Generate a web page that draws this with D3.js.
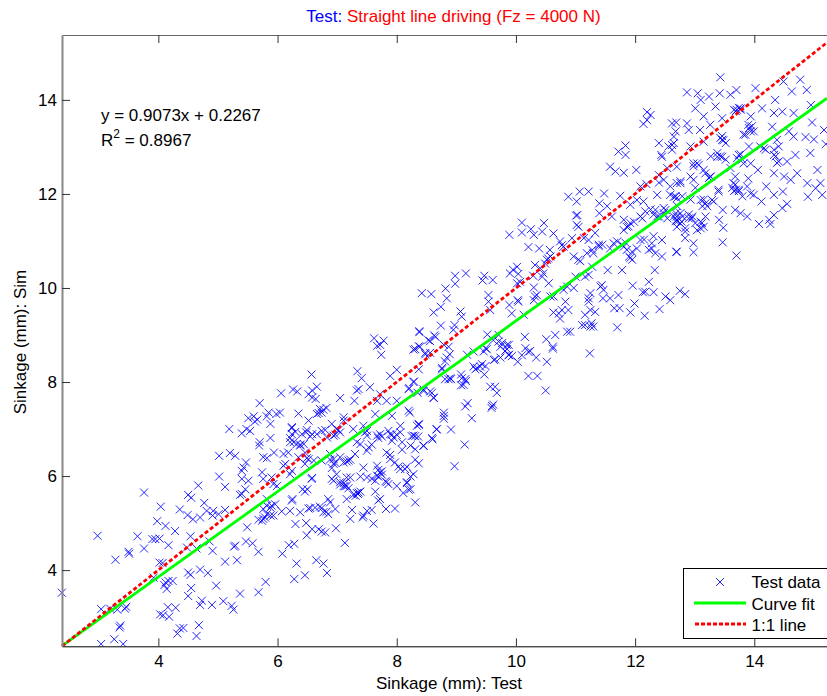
<!DOCTYPE html>
<html><head><meta charset="utf-8">
<script src="https://cdn.jsdelivr.net/npm/d3@7/dist/d3.min.js"></script>
<style>
html,body{margin:0;padding:0;background:#fff;overflow:hidden}
text{font-family:"Liberation Sans",Arial,sans-serif;font-size:17px;fill:#000}
</style></head><body><div id="c"></div>
<script>
const xTicks=[4,6,8,10,12,14];
const yTicks=[4,6,8,10,12,14];
const xDomain=[2.383,15.22];
const yDomain=[2.38,15.38];
const fitSlope=0.9073, fitIntercept=0.2267;
const titleBlue="Test: ", titleRed="Straight line driving (Fz = 4000 N)";
const legendLabels=["Test data","Curve fit","1:1 line"];

const pointsLow=[[2.38,3.52],[2.98,4.73],[3.28,4.22],[3.65,4.72],[3.76,5.65],[3.5,4.39],[3.51,4.35],[3.76,4.46],[3.9,4.66],[3.95,4.66],[4.02,4.67],[3.98,5.04],[4.04,5.35],[4.12,4.94],[4.28,4.83],[4.17,4.53],[4.02,4.16],[4.07,4.15],[4.36,5.29],[4.5,5.6],[4.55,5.54],[4.67,5.8],[4.49,5.17],[4.58,5.08],[4.7,5.12],[4.77,5.43],[4.81,5.26],[4.92,5.26],[4.91,5.16],[5.01,5.19],[5.12,5.28],[5.02,5.99],[5.12,5.77],[5.02,6.43],[5.2,6.49],[5.29,6.43],[5.19,7.0],[4.54,4.72],[4.48,4.48],[4.64,4.46],[4.86,4.61],[4.91,4.41],[5.49,4.91],[5.47,4.61],[5.58,4.57],[5.27,4.5],[5.29,4.52],[5.12,4.18],[5.32,4.21],[5.68,4.39],[4.7,4.01],[4.83,3.94],[4.5,3.95],[4.54,3.9],[4.97,3.67],[4.55,3.62],[4.5,3.45],[4.12,3.74],[4.17,3.77],[4.24,3.77],[4.1,3.68],[4.14,3.6],[3.92,3.84],[5.37,3.5],[5.68,3.53],[5.8,3.75],[4.73,3.35],[4.7,3.26],[4.9,3.26],[5.09,3.34],[5.23,3.24],[5.26,3.16],[4.16,3.21],[4.29,3.2],[4.03,3.06],[4.08,3.04],[4.18,3.01],[4.68,2.83],[4.64,2.6],[4.36,2.76],[4.42,2.77],[4.32,2.65],[3.04,3.17],[3.19,3.18],[3.31,3.16],[3.46,3.22],[3.44,3.18],[3.36,2.82],[3.35,2.78],[3.26,2.53],[3.04,2.43],[3.41,2.43]];

const pointsMid=[[6.08,4.35],[6.19,4.53],[6.28,4.56],[6.32,4.14],[6.28,3.81],[6.46,3.89],[6.65,4.21],[6.77,4.14],[6.83,3.94],[7.13,4.58],[6.98,4.89],[6.49,4.74],[6.58,4.87],[6.69,4.87],[6.74,4.82],[6.8,4.8],[6.3,4.98],[6.48,5.0],[7.22,5.09],[7.43,5.12],[7.44,5.16],[7.61,4.99],[7.5,5.26],[7.58,5.28],[7.25,5.28],[6.97,5.3],[6.85,5.19],[6.77,5.23],[6.55,5.32],[6.63,5.33],[6.71,5.35],[6.74,5.32],[6.82,5.24],[6.52,5.31],[6.38,5.23],[6.21,5.26],[6.07,5.25],[7.72,5.51],[7.69,5.48],[7.82,5.3],[7.97,5.31],[7.35,5.62],[7.31,5.58],[7.16,5.51],[6.85,5.51],[6.88,5.44],[6.25,5.51],[6.24,5.48],[6.42,5.72],[6.46,5.67],[6.5,5.72],[6.57,5.94],[5.82,5.19],[5.76,5.09],[5.88,5.16],[5.93,5.16],[5.68,5.07],[5.74,5.05],[5.79,5.12],[5.9,5.37],[5.88,5.33],[5.96,5.4],[5.82,5.51],[5.76,5.3],[5.82,5.37],[5.4,5.62],[5.37,5.6],[5.46,5.72],[5.4,5.94],[5.51,5.9],[5.4,6.11],[5.47,6.29],[5.43,6.18],[5.74,6.08],[5.76,5.94],[5.9,5.97],[5.99,5.79],[5.93,5.83],[6.1,6.22],[6.13,6.26],[6.24,6.11],[6.21,6.04],[5.76,6.4],[5.82,6.38],[5.94,6.5],[6.1,6.47],[6.18,6.5],[5.7,6.72],[5.69,6.65],[5.88,6.81],[5.4,6.91],[5.48,7.0],[5.54,6.96],[5.51,7.23],[5.6,7.27],[5.66,7.2],[5.62,7.16],[5.82,7.27],[5.85,7.35],[5.88,7.11],[5.98,7.32],[6.04,7.35],[5.7,7.55],[6.06,7.76],[6.26,7.84],[6.33,7.8],[6.52,7.74],[6.58,7.82],[6.66,7.9],[6.58,7.67],[6.64,7.64],[6.57,8.16],[6.35,7.33],[6.52,7.18],[6.66,7.32],[6.71,7.43],[6.74,7.35],[6.82,7.45],[6.24,7.04],[6.3,6.94],[6.41,6.89],[6.48,6.93],[6.24,6.89],[6.21,6.72],[6.27,6.72],[6.32,6.68],[6.38,6.65],[6.44,6.68],[6.58,6.89],[6.66,6.89],[6.74,6.96],[6.46,6.5],[6.35,6.4],[6.52,6.36],[6.61,6.33],[6.46,6.26],[6.74,6.33],[6.88,6.47],[6.94,6.36],[6.94,6.26],[7.05,7.66],[6.99,7.0],[7.05,6.93],[7.11,7.25],[7.11,7.18],[6.91,7.11],[6.83,6.82],[6.94,6.86],[7.29,7.6],[7.33,7.82],[7.36,7.85],[7.34,8.23],[7.41,8.08],[7.55,7.89],[7.33,6.72],[7.39,6.68],[7.47,6.93],[7.5,6.96],[7.5,6.86],[7.27,7.0],[7.44,7.07],[7.67,6.86],[7.72,6.89],[7.86,6.96],[7.89,6.89],[7.95,6.82],[7.92,6.75],[7.53,6.61],[7.5,6.54],[7.3,6.47],[7.19,6.33],[7.11,6.29],[7.05,6.4],[7.44,6.18],[7.5,5.97],[7.58,5.94],[7.67,6.01],[7.67,6.22],[7.72,6.08],[7.64,5.9],[7.83,5.87],[7.86,5.83],[8.0,5.79],[6.99,6.04],[6.94,5.9],[6.91,5.94],[7.05,5.87],[7.11,5.79],[7.16,5.79],[7.22,5.97],[7.16,5.97],[7.36,5.65],[7.64,5.67],[7.89,8.13],[8.0,8.26],[7.67,7.6],[7.83,7.6],[8.0,7.6],[7.92,7.28],[8.2,7.39],[8.22,7.35],[7.64,7.32],[7.72,7.74],[8.28,8.0],[8.2,7.85],[7.62,8.93],[7.78,8.88],[7.67,8.77],[7.72,8.79],[7.74,8.58],[8.06,7.07],[8.06,6.93],[8.09,6.72],[8.28,6.86],[8.34,7.07],[8.23,6.65],[8.28,6.04],[8.17,5.87],[8.31,5.44],[8.23,5.72],[7.83,6.5],[7.89,6.36],[7.97,6.29],[8.06,6.15],[8.14,6.15],[8.11,5.64],[8.2,5.71],[8.17,5.85]];

const pointsMidDense=[[7.02,6.98],[6.97,6.88],[6.8,6.98],[6.69,7.34],[6.77,7.41],[7.05,5.82],[7.11,5.85],[7.13,5.78],[7.19,5.74],[7.27,5.6],[7.39,5.67],[7.33,5.64],[7.39,5.99],[7.69,5.99],[7.75,6.03],[7.81,5.89],[7.69,6.13],[7.75,6.1],[7.16,6.31],[7.22,6.35],[6.88,6.35],[6.97,6.28],[6.91,6.17],[7.58,6.67],[7.69,6.81],[7.75,6.84],[7.92,6.88],[8.0,6.88],[8.09,6.56],[7.89,6.45],[8.03,6.2],[8.17,6.2],[8.23,5.99],[6.24,7.02],[6.49,6.98],[6.21,6.81],[6.38,6.67],[6.55,6.84],[6.49,6.38],[6.58,5.96]];

const pointsHighMid=[[11.24,8.61],[10.62,8.71],[10.52,8.43],[10.21,8.13],[10.36,8.13],[10.5,7.82],[10.34,8.52],[10.24,8.66],[10.21,8.64],[10.1,8.57],[10.03,8.43],[9.88,8.57],[9.82,8.66],[9.85,8.7],[9.65,8.48],[9.74,8.52],[9.51,8.7],[9.29,8.33],[9.35,8.3],[9.4,8.33],[9.49,8.34],[9.43,8.38],[9.47,8.16],[9.32,8.27],[9.08,8.16],[9.15,8.06],[9.08,7.93],[9.16,8.02],[9.57,7.9],[9.65,7.9],[9.68,7.77],[9.19,7.55],[9.15,7.48],[9.6,7.49],[9.62,7.52],[9.59,7.45],[9.26,7.23],[9.14,6.67],[8.97,6.21],[8.91,6.99],[8.67,6.99],[8.6,6.78],[8.45,6.64],[8.31,6.57],[8.79,7.35],[8.79,7.28],[8.79,7.22],[8.37,7.09],[8.31,6.85],[8.25,6.85],[8.36,6.84],[8.31,6.35],[8.37,6.27],[8.87,8.06],[8.91,8.06],[8.81,8.06],[8.76,8.27],[8.84,8.52],[8.89,8.59],[8.59,7.77],[8.62,7.67],[8.45,7.81],[8.37,8.27],[8.48,8.59],[8.56,8.62],[8.31,8.7],[8.38,9.08],[8.63,8.99],[8.56,8.87],[8.37,8.76],[8.28,8.69],[8.48,8.62],[8.29,8.01],[8.21,7.87],[8.35,7.77],[8.45,7.84],[8.56,7.8],[8.62,7.66],[8.37,7.11],[8.67,7.0],[8.59,6.81],[8.45,6.65],[9.29,8.65],[9.18,8.58],[9.46,8.65],[9.63,8.47],[9.88,8.58],[9.93,8.55],[9.77,8.83],[9.88,8.79],[9.12,7.94],[9.09,8.08],[8.81,8.44],[8.76,8.3],[8.9,8.08]];

const pointsUpperLeft=[[8.42,9.89],[8.58,9.87],[8.82,9.99],[8.84,9.78],[8.74,9.6],[8.62,9.48],[8.98,10.09],[9.16,10.31],[8.98,10.26],[9.47,10.26],[9.44,10.16],[9.61,10.17],[9.54,9.85],[9.54,9.71],[9.57,9.53],[9.07,9.5],[9.09,9.39],[8.97,9.21],[8.95,9.11],[8.74,9.2],[8.38,9.06],[8.65,8.96],[8.53,8.89],[8.39,8.75],[8.87,8.75],[8.79,8.79],[9.52,9.01],[9.71,9.0],[9.62,8.89],[9.71,8.86],[9.85,8.79],[9.74,8.75],[9.49,8.72],[10.15,8.96],[10.51,8.91],[10.66,9.0],[10.86,9.07],[10.91,9.07],[10.16,8.72],[10.62,8.75],[9.9,10.31],[10.02,10.45],[9.95,10.39],[10.04,10.3],[10.07,10.13],[10.02,10.1],[10.3,10.01],[10.32,9.82],[10.3,9.74],[10.35,9.85],[10.55,10.1],[10.58,9.82],[10.63,9.82],[10.32,10.49],[10.41,10.42],[10.46,10.31],[10.49,10.52],[10.54,10.63],[10.29,10.26],[10.44,10.24],[9.89,9.64],[10.03,9.74],[9.93,9.46],[10.13,9.43],[10.04,9.71],[10.63,9.48],[10.72,9.46],[10.77,9.53],[10.74,9.35],[10.88,9.53],[10.83,9.71],[11.0,10.24],[10.97,10.0],[10.86,10.03],[10.8,9.96],[11.16,10.24],[11.22,10.28],[11.42,10.03],[11.44,10.06],[11.47,9.96],[11.25,9.89],[11.22,9.78],[11.22,9.71],[11.46,9.78],[11.58,9.78],[11.72,9.85],[11.25,9.53],[11.33,9.49],[11.16,9.43],[11.16,9.21],[11.11,9.21],[11.25,9.18],[11.27,9.25],[11.3,9.18],[11.65,9.57],[11.74,9.57],[11.92,9.48],[11.99,9.67],[12.16,9.41],[12.41,9.55],[11.7,9.16],[11.96,10.05],[12.23,10.13],[12.13,9.91],[12.17,9.92],[12.31,9.91],[12.51,9.82],[12.59,9.74],[12.75,9.94],[12.84,9.87],[11.54,10.38],[11.78,10.38],[12.33,10.38],[10.97,10.67],[11.05,10.6],[11.28,10.45],[11.22,11.02],[11.3,10.74],[11.39,10.89]];

const pointsUpperMid=[[9.89,11.13],[10.1,11.39],[10.1,11.18],[10.25,11.25],[10.3,11.13],[10.44,11.2],[10.47,11.38],[10.63,11.16],[10.21,10.87],[10.39,10.84],[10.57,10.81],[10.58,10.67],[10.52,10.6],[10.74,10.99],[10.8,10.88],[10.94,11.06],[10.77,10.91],[10.88,11.94],[11.02,11.84],[11.07,12.05],[11.22,12.05],[11.48,12.01],[11.75,11.96],[11.01,11.54],[11.03,11.55],[11.05,11.3],[11.02,11.34],[11.4,11.8],[11.4,11.59],[11.53,11.74],[11.61,11.52],[11.81,11.45],[11.92,11.77],[12.03,11.87],[12.14,11.84],[11.86,11.3],[12.12,11.48],[11.98,11.41],[11.92,11.38],[11.81,11.23],[12.34,11.66],[12.37,11.52],[12.51,11.66],[12.54,11.48],[12.37,11.98],[12.19,12.21],[12.09,12.16],[12.4,12.24],[11.58,12.58],[11.67,12.48],[11.81,12.45],[12.02,12.51],[11.84,13.03],[11.72,12.9],[11.84,12.83],[12.4,13.08],[12.44,12.83],[12.45,12.79],[12.62,12.94],[12.65,13.08],[12.56,13.01],[12.7,12.58],[12.54,12.55],[12.4,12.4],[12.48,12.3],[12.7,12.23],[12.76,12.23],[12.65,11.94],[12.7,11.91],[11.81,10.88],[11.9,10.67],[11.95,10.6],[11.7,10.99],[12.03,10.84],[12.09,11.02],[12.28,10.95],[12.34,10.74],[12.28,10.84],[12.45,11.02],[12.45,10.67],[12.69,10.77],[11.58,10.84],[11.64,10.95],[11.86,10.81],[11.95,10.77],[11.89,11.31],[12.09,11.52],[12.17,11.63],[12.26,11.67],[12.31,11.56],[12.4,11.52],[12.48,11.7],[12.71,11.74],[12.68,11.59],[12.71,11.42],[11.84,10.96],[11.78,10.92],[11.92,10.64],[12.15,11.03],[12.23,10.81],[12.31,11.1],[11.39,10.92],[11.45,10.92],[11.28,10.81],[11.19,10.74],[11.08,10.57],[11.14,11.06],[11.33,11.17]];

const pointsTop=[[12.48,11.59],[12.7,11.52],[12.76,11.59],[12.7,11.45],[12.9,11.48],[12.95,11.48],[13.1,11.41],[13.18,11.52],[13.1,11.87],[13.18,11.8],[13.29,11.87],[13.4,12.05],[13.4,12.09],[12.84,11.06],[12.98,10.95],[12.7,10.77],[12.98,10.76],[13.47,10.97],[13.7,10.69],[12.84,11.2],[12.78,11.41],[12.84,11.27],[13.04,11.23],[13.15,11.3],[13.41,11.45],[13.48,11.28],[13.47,11.66],[13.68,11.66],[13.88,11.52],[13.77,11.59],[14.08,11.36],[14.25,11.45],[14.33,11.55],[14.27,11.36],[14.47,11.7],[14.55,11.79],[13.69,12.09],[13.74,12.09],[13.65,12.23],[13.68,12.37],[13.9,12.33],[13.94,12.01],[13.99,11.98],[14.12,11.84],[14.2,12.16],[14.33,11.98],[14.48,12.05],[13.88,12.16],[14.06,12.51],[14.33,12.44],[14.5,12.37],[14.61,12.3],[14.72,12.44],[14.89,12.23],[15.06,12.51],[15.11,12.23],[15.03,12.12],[14.9,11.94],[15.14,11.98],[14.55,12.69],[14.69,12.83],[14.94,12.87],[15.0,13.16],[14.86,13.21],[15.17,13.36],[15.2,13.06],[14.97,13.52],[14.88,14.21],[14.77,14.43],[14.63,14.18],[14.95,13.89],[14.66,13.72],[14.47,13.75],[14.33,13.72],[14.13,13.82],[14.35,14.0],[14.49,14.39],[14.02,14.25],[13.43,14.48],[12.87,14.16],[13.05,14.14],[13.24,14.07],[13.42,14.14],[13.6,14.11],[13.7,14.21],[13.1,14.0],[13.01,13.82],[13.35,13.86],[12.2,13.74],[12.26,13.68],[12.2,13.57],[12.14,13.49],[12.62,13.5],[12.69,13.52],[12.87,13.5],[12.9,13.36],[12.68,13.33],[12.65,13.22],[12.62,13.04],[13.15,13.65],[13.26,13.47],[13.46,13.61],[13.09,13.36],[12.93,13.01],[13.15,13.11],[13.46,13.15],[13.52,13.08],[13.82,13.26],[13.9,13.47],[13.99,13.33],[13.94,13.65],[13.71,13.79],[13.77,13.82],[12.98,12.65],[13.04,12.65],[13.15,12.51],[13.26,12.37],[13.38,12.79],[13.46,12.79],[13.74,12.83],[13.91,13.01],[14.16,12.97],[14.33,12.83],[14.41,12.69],[14.41,13.01],[14.3,13.43],[14.58,13.33],[14.38,13.15],[14.66,13.22],[13.94,12.65],[13.82,12.65],[13.6,12.55],[14.33,12.94]];

const pointsTopDense=[[12.68,11.42],[12.76,11.37],[12.7,11.3],[12.65,11.52],[12.79,11.52],[12.9,11.56],[12.96,11.52],[13.01,11.38],[13.12,11.38],[13.1,11.27],[12.59,11.98],[12.68,11.95],[12.59,12.16],[12.76,12.27],[13.63,12.13],[13.66,12.06],[13.74,12.06],[13.68,12.2],[13.8,11.95],[13.43,13.19],[13.48,13.14],[13.46,13.23],[13.69,13.76],[13.74,13.83],[13.77,13.79],[13.66,13.79],[13.85,13.26],[13.91,13.4],[13.96,13.44],[13.94,13.33],[13.18,12.44],[13.24,12.34],[13.27,12.37],[13.07,12.62],[12.98,12.59],[13.77,12.84],[13.71,12.76],[13.8,12.73],[14.1,13.01],[14.19,12.94],[13.15,11.88],[13.32,11.84],[13.13,11.74],[13.21,11.74],[12.93,12.37],[12.98,12.3],[13.01,12.13],[13.27,12.8],[13.38,12.87],[13.43,12.8],[13.52,12.73],[14.38,12.66],[14.36,12.8],[12.93,11.88],[12.79,11.95]];

const testPoints=[...pointsLow,...pointsMid,...pointsMidDense,...pointsHighMid,...pointsUpperLeft,...pointsUpperMid,...pointsTop,...pointsTopDense];

const W=827,H=696;
const m={l:62,t:35,r:0,b:50};
const x=d3.scaleLinear().domain(xDomain).range([m.l,W]);
const y=d3.scaleLinear().domain(yDomain).range([646.3,m.t]);
const svg=d3.select("#c").append("svg").attr("width",W).attr("height",H).style("display","block");
svg.append("defs").append("clipPath").attr("id","plot").append("rect").attr("x",50).attr("y",0).attr("width",W).attr("height",646.5);

const XMARK="M-4,-4L4,4M-4,4L4,-4";
const g=svg.append("g").attr("clip-path","url(#plot)");
g.selectAll("path.pt").data(testPoints).join("path").attr("class","pt")
 .attr("d",XMARK).attr("transform",d=>`translate(${x(d[0])},${y(d[1])})`)
 .attr("fill","none").attr("stroke","#0000ff").attr("stroke-width",0.85);

const line=d3.line().x(d=>x(d[0])).y(d=>y(d[1]));
const xs=xDomain;
g.append("path").attr("d",line(xs.map(v=>[v,fitSlope*v+fitIntercept]))).attr("fill","none").attr("stroke","#00ff00").attr("stroke-width",2.8);
g.append("path").attr("d",line(xs.map(v=>[v,v]))).attr("fill","none").attr("stroke","#ff0000").attr("stroke-width",2.8).attr("stroke-dasharray","4,2.5");

function styleAxis(a,col){a.select(".domain").attr("stroke",col);a.selectAll(".tick line").attr("stroke","#333");a.selectAll("text").attr("font-size",17).attr("font-family","Liberation Sans").attr("fill","#000");}
const axB=svg.append("g").attr("transform","translate(0,646.3)").call(d3.axisBottom(x).tickValues(xTicks).tickSize(-8).tickPadding(9).tickSizeOuter(0));
styleAxis(axB,"#000");
const axT=svg.append("g").attr("transform",`translate(0,${m.t})`).call(d3.axisTop(x).tickValues(xTicks).tickSize(-8).tickSizeOuter(0).tickFormat(""));
styleAxis(axT,"#666");axT.select(".domain").attr("stroke-width",1.2);
const axL=svg.append("g").attr("transform",`translate(${m.l},0)`).call(d3.axisLeft(y).tickValues(yTicks).tickSize(-8).tickPadding(5).tickSizeOuter(0));
styleAxis(axL,"#888");axL.select(".domain").attr("stroke-width",2);

const t=svg.append("text").attr("x",453.5).attr("y",22).attr("text-anchor","middle");
t.append("tspan").style("fill","#0000ff").text(titleBlue);
t.append("tspan").style("fill","#ff0000").text(titleRed);
svg.append("text").attr("x",449).attr("y",689).attr("text-anchor","middle").text("Sinkage (mm): Test");
svg.append("text").attr("transform","translate(26,342) rotate(-90)").attr("text-anchor","middle").text("Sinkage (mm): Sim");
svg.append("text").attr("x",101).attr("y",121).text(`y = ${fitSlope}x + ${fitIntercept}`);
const r2=svg.append("text").attr("x",101).attr("y",146);
r2.append("tspan").text("R");
r2.append("tspan").attr("dy",-8).style("font-size","12px").text("2");
r2.append("tspan").attr("dy",8).text(" = 0.8967");

const lg=svg.append("g");
lg.append("rect").attr("x",683.5).attr("y",568.5).attr("width",160).attr("height",70).attr("fill","#fff").attr("stroke","#000").attr("stroke-width",1);
const rows=[582,604,625];
lg.selectAll("text.l").data(legendLabels).join("text").attr("class","l").attr("x",751.5).attr("y",(d,i)=>rows[i]+6).text(d=>d);
lg.append("path").attr("d",XMARK).attr("transform",`translate(720,${rows[0]})`).attr("fill","none").attr("stroke","#0000ff").attr("stroke-width",0.85);
lg.append("line").attr("x1",694).attr("x2",746).attr("y1",603).attr("y2",603).attr("stroke","#00ff00").attr("stroke-width",2.8);
lg.append("line").attr("x1",695).attr("x2",746).attr("y1",624).attr("y2",624).attr("stroke","#ff0000").attr("stroke-width",2.8).attr("stroke-dasharray","4,2");
</script></body></html>
